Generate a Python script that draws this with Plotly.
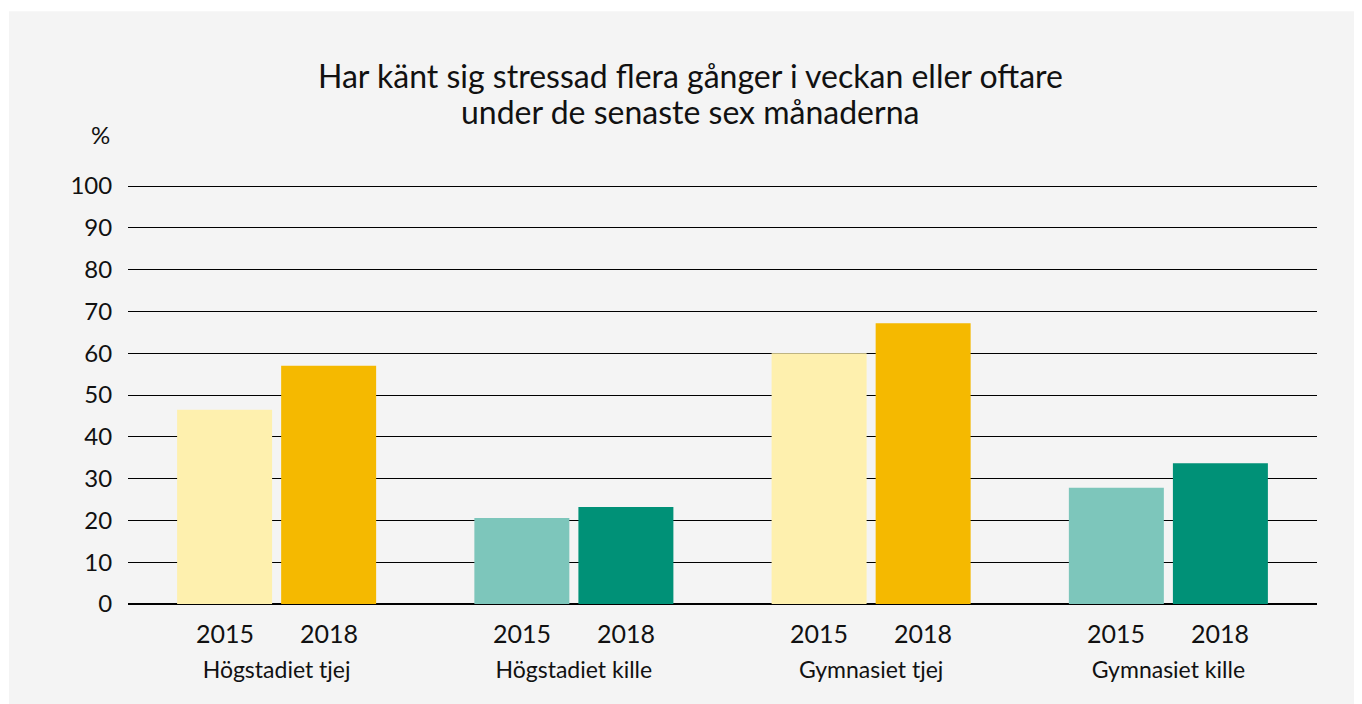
import plotly.graph_objects as go

groups = ["Högstadiet tjej", "Högstadiet kille", "Gymnasiet tjej", "Gymnasiet kille"]
years = ["2015", "2018"]
values_2015 = [46.5, 20.6, 60.0, 27.8]
values_2018 = [57.0, 23.2, 67.2, 33.7]
colors_2015 = ["#FEF0AE", "#7DC6BB", "#FEF0AE", "#7DC6BB"]
colors_2018 = ["#F5B900", "#009177", "#F5B900", "#009177"]
y_ticks = [0, 10, 20, 30, 40, 50, 60, 70, 80, 90, 100]
title_lines = ["Har känt sig stressad flera gånger i veckan eller oftare",
               "under de senaste sex månaderna"]

FONT = "Lato, Open Sans, sans-serif"
OFF = 8                      # page body margin
W, H = 1362 - OFF, 704 - OFF
YMAX = 100.5
plot_h = 418 * YMAX / 100    # 418 px for 0..100
L, R, B = 128 - OFF, 1362 - 1317, 704 - 604
T = H - B - plot_h
PW = W - L - R


def py(page_y):
    """page pixel y -> paper y"""
    return (704 - B - page_y) / plot_h


def px(page_x):
    return (page_x - OFF - L) / PW


fig = go.Figure()
fig.add_trace(go.Bar(x=groups, y=values_2015, name=years[0],
                     marker=dict(color=colors_2015, line=dict(width=0)),
                     hoverinfo="x+y"))
fig.add_trace(go.Bar(x=groups, y=values_2018, name=years[1],
                     marker=dict(color=colors_2018, line=dict(width=0)),
                     hoverinfo="x+y"))

annotations = []
for g in groups:
    for yr, shift in zip(years, [-52, 52]):
        annotations.append(dict(x=g, xref="x", y=py(633), yref="paper", text=yr,
                                showarrow=False, xshift=shift,
                                yanchor="middle", xanchor="center",
                                font=dict(family=FONT, size=25, color="#111")))
annotations.append(dict(x=0, xref="paper", y=py(134), yref="paper",
                        text="%", showarrow=False, xanchor="right", yanchor="middle",
                        xshift=-16, font=dict(family=FONT, size=24, color="#111")))
for line, cy in zip(title_lines, [75, 111]):
    annotations.append(dict(x=px(690), xref="paper", y=py(cy), yref="paper",
                            text=line, showarrow=False,
                            xanchor="center", yanchor="middle",
                            font=dict(family=FONT, size=32, color="#111")))

fig.update_layout(
    width=W, height=H,
    margin=dict(l=L, r=R, t=T, b=B, pad=0),
    paper_bgcolor="white",
    plot_bgcolor="rgba(0,0,0,0)",
    barmode="group",
    bargap=0.30,
    bargroupgap=0.087,
    showlegend=False,
    annotations=annotations,
    shapes=[dict(type="rect", xref="paper", yref="paper", layer="below",
                 x0=px(9), x1=px(1362),
                 y0=py(704), y1=py(11),
                 fillcolor="#F4F4F4", line=dict(width=0))],
    font=dict(family=FONT, size=22, color="#111"),
)
fig.update_yaxes(range=[0, YMAX], tickvals=y_ticks, showgrid=True,
                 gridcolor="#000", gridwidth=1, zeroline=True,
                 zerolinecolor="#000", zerolinewidth=2,
                 ticks="outside", ticklen=10, tickcolor="rgba(0,0,0,0)",
                 tickfont=dict(family=FONT, size=24, color="#111"),
                 showline=False, fixedrange=True)
fig.update_xaxes(showgrid=False, ticks="outside", ticklen=45,
                 tickcolor="rgba(0,0,0,0)", showline=False,
                 tickfont=dict(family=FONT, size=23, color="#111"),
                 fixedrange=True)

fig.write_html("out.html")
